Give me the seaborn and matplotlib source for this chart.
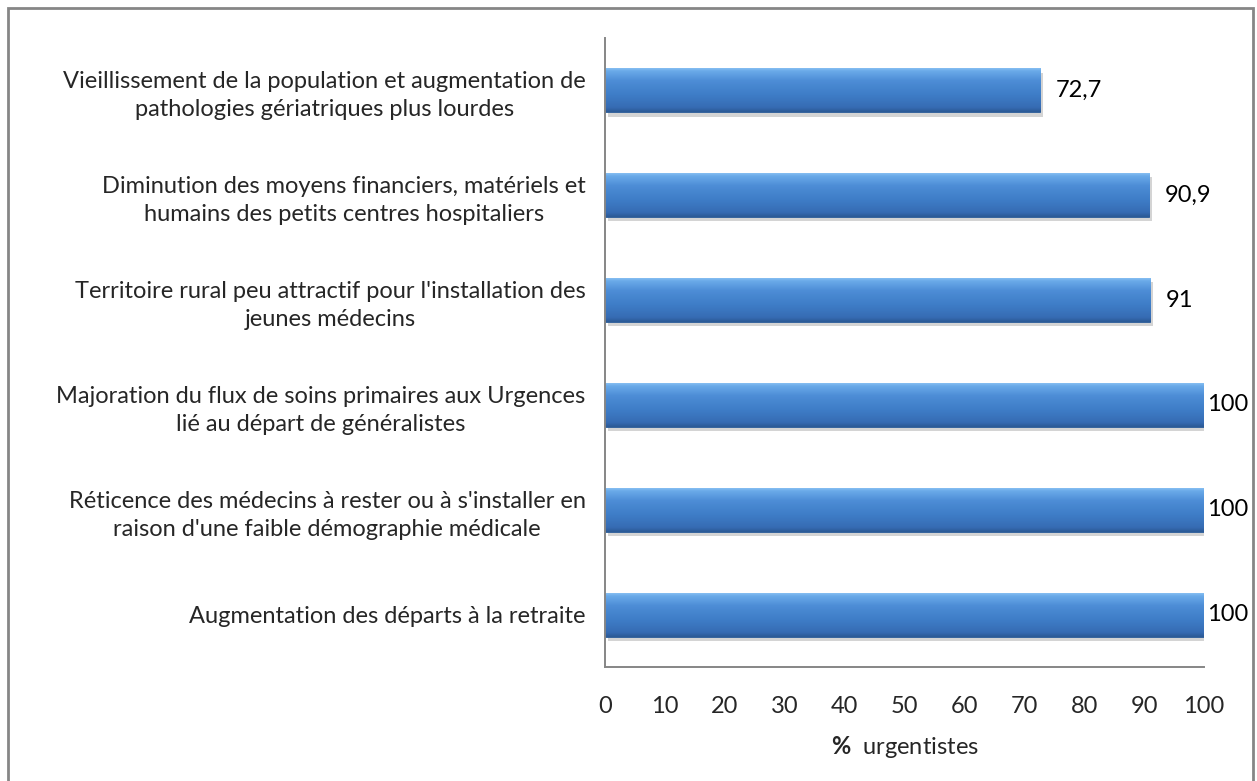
import matplotlib
matplotlib.use("Agg")
import matplotlib.pyplot as plt
import matplotlib.patheffects as pe
from matplotlib.colors import LinearSegmentedColormap
from matplotlib.patches import Rectangle
import numpy as np
import pandas as pd
import seaborn as sns

categories = [
    "Vieillissement de la population et augmentation de\npathologies gériatriques plus lourdes",
    "Diminution des moyens financiers, matériels et\nhumains des petits centres hospitaliers",
    "Territoire rural peu attractif pour l'installation des\njeunes médecins",
    "Majoration du flux de soins primaires aux Urgences\nlié au départ de généralistes",
    "Réticence des médecins à rester ou à s'installer en\nraison d'une faible démographie médicale",
    "Augmentation des départs à la retraite",
]
values = [72.7, 90.9, 91, 100, 100, 100]
xticks = [0, 10, 20, 30, 40, 50, 60, 70, 80, 90, 100]
xlabel = r"$\mathbf{\%}$  urgentistes"

sns.set_theme(style="white")
plt.rcParams["font.family"] = ["Lato", "DejaVu Sans"]
plt.rcParams["mathtext.fontset"] = "custom"
plt.rcParams["mathtext.rm"] = "Lato"
plt.rcParams["mathtext.bf"] = "Lato:bold"

FS = 17
df = pd.DataFrame({"cat": categories, "val": values})

fig = plt.figure(figsize=(12.57, 7.81), dpi=100)
ax = fig.add_axes([605/1257, 1-667/781, (1204-605)/1257, (667-38)/781])

sns.barplot(data=df, x="val", y="cat", orient="h", ax=ax, color="#3d7cc8",
            width=0.42, edgecolor="#2a5a96", linewidth=0.6, saturation=1)

cmap = LinearSegmentedColormap.from_list("bar", [
    (0.0, "#8ec4f4"), (0.08, "#6aaae9"), (0.3, "#4d8dd6"),
    (0.6, "#3f7ec8"), (0.9, "#366cb4"), (1.0, "#2c5a96")])
grad = np.linspace(0, 1, 64).reshape(-1, 1)
for p in ax.patches:
    p.set_path_effects([pe.SimplePatchShadow(offset=(2, -3), shadow_rgbFace="#a0a0a0", alpha=0.45), pe.Normal()])
    x0, y0, w, h = p.get_x(), p.get_y(), p.get_width(), p.get_height()
    im = ax.imshow(grad, cmap=cmap, aspect="auto", extent=(x0, x0 + w, y0 + h, y0),
                   origin="upper", zorder=p.get_zorder() + 0.1, interpolation="bicubic")
    im.set_clip_path(p)

ax.set_xlim(0, 100)
ax.set_ylim(5.5, -0.5)
ax.set_xticks(xticks)
ax.set_xticklabels([str(t) for t in xticks], fontsize=FS)
ax.tick_params(axis="x", length=0, pad=21)
ax.tick_params(axis="y", length=0, pad=14)
for lab in ax.get_yticklabels():
    lab.set_fontsize(FS)
    lab.set_multialignment("center")
    lab.set_linespacing(1.4)
ax.set_ylabel("")
ax.set_xlabel(xlabel, fontsize=FS, labelpad=12)

for s in ["top", "right"]:
    ax.spines[s].set_visible(False)
for s in ["left", "bottom"]:
    ax.spines[s].set_color("#868686")
    ax.spines[s].set_linewidth(1.4)

for p, v in zip(ax.patches, values):
    txt = f"{v:g}".replace(".", ",")
    ax.annotate(txt, (p.get_x() + p.get_width(), p.get_y() + p.get_height() / 2),
                xytext=(2 if v >= 100 else 11, 0), textcoords="offset points",
                ha="left", va="center", fontsize=FS, color="black", annotation_clip=False)

fig.patches.append(Rectangle((7.5/1257, -0.05), (1253-7.5)/1257, 1.05 - 8.5/781,
                             transform=fig.transFigure, fill=False,
                             edgecolor="#868686", linewidth=2))

fig.savefig("out.png", dpi=100)
